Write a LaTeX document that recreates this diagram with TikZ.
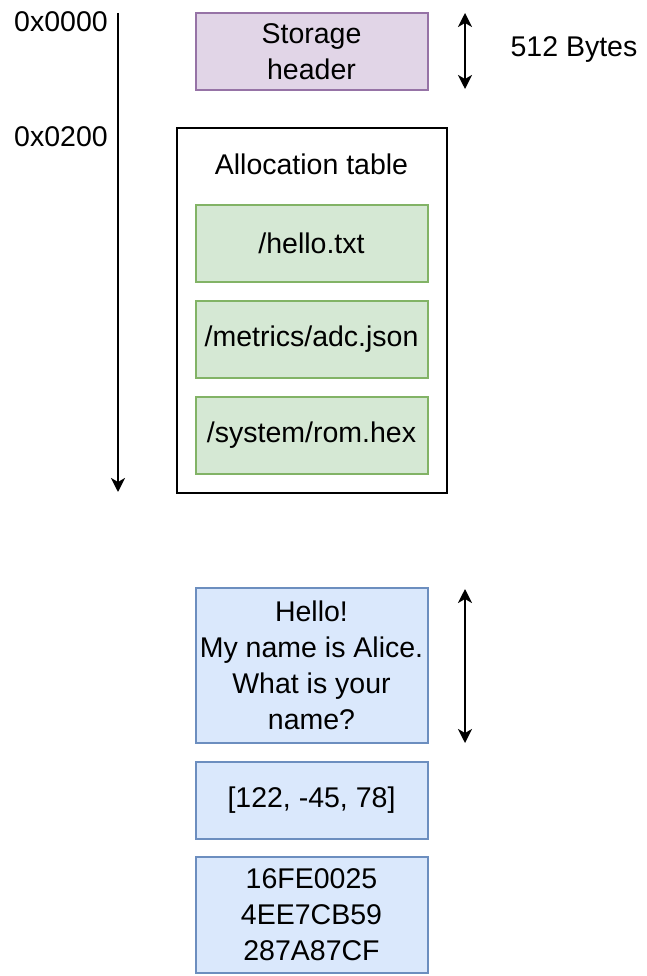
\documentclass[tikz,border=0pt]{standalone}
\usepackage{fontspec}
\setmainfont{Liberation Sans}
\usetikzlibrary{arrows.meta}
\definecolor{pfill}{HTML}{E1D5E7}
\definecolor{pdraw}{HTML}{9673A6}
\definecolor{gfill}{HTML}{D5E8D4}
\definecolor{gdraw}{HTML}{82B366}
\definecolor{bfill}{HTML}{DAE8FC}
\definecolor{bdraw}{HTML}{6C8EBF}
\begin{document}
\begin{tikzpicture}[x=1pt,y=-1pt,
  every node/.style={font=\fontsize{28.5}{36}\selectfont, inner sep=0pt, align=center},
  cell/.style={rectangle, line width=2pt, minimum width=232pt},
  purplebox/.style={cell, draw=pdraw, fill=pfill},
  greenbox/.style={cell, draw=gdraw, fill=gfill, minimum height=77pt},
  bluebox/.style={cell, draw=bdraw, fill=bfill},
  tip/.tip={Stealth[length=14pt,width=14pt,inset=4pt]},
  arr/.style={line width=2.2pt, -tip},
  darr/.style={line width=2.2pt, tip-tip}]
\useasboundingbox (0,0) rectangle (647,976);

% address axis
\node (a0) at (61,22) {0x0000};
\node (a1) at (61,137) {0x0200};
\coordinate (axtop) at (118,13);
\coordinate (axbot) at (118,492);
\draw[arr] (axtop) -- (axbot);

% storage header
\node[purplebox, minimum height=77pt] (hdr) at (311.5,51.5) {Storage\\header};
\coordinate (s1) at (465,13);
\coordinate (s2) at (465,89);
\draw[darr] (s1) -- (s2);
\node (sz) at (574,50) {512 Bytes};

% allocation table
\node[rectangle, draw=black, line width=2.5pt, fill=white, minimum width=270pt, minimum height=365pt] (tab) at (312,310.5) {};
\node (tabt) at (311.5,164) {Allocation table};
\node[greenbox] (f1) at (311.5,243.5) {/hello.txt};
\node[greenbox] (f2) at (311.5,339.5) {/metrics/adc.json};
\node[greenbox] (f3) at (311.5,435.5) {/system/rom.hex};

% data blocks
\node[bluebox, minimum height=155pt] (d1) at (311.5,665.5) {Hello!\\My name is Alice.\\What is your\\name?};
\coordinate (b1) at (465,589);
\coordinate (b2) at (465,743);
\draw[darr] (b1) -- (b2);
\node[bluebox, minimum height=77pt] (d2) at (311.5,800.5) {[122, -45, 78]};
\node[bluebox, minimum height=116pt] (d3) at (311.5,915) {16FE0025\\4EE7CB59\\287A87CF};
\end{tikzpicture}
\end{document}
